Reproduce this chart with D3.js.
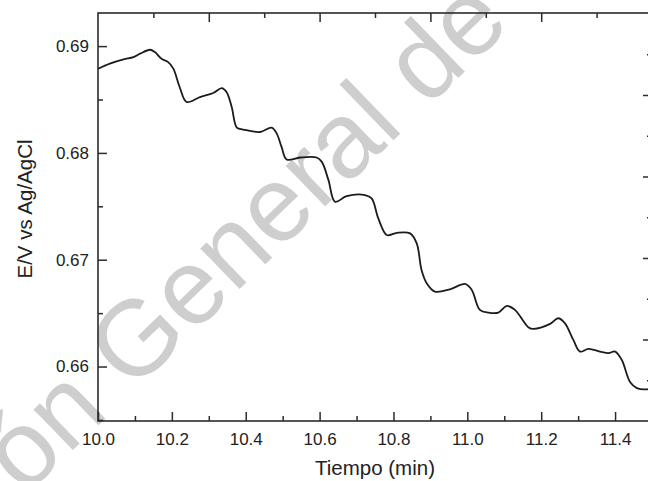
<!DOCTYPE html>
<html>
<head>
<meta charset="utf-8">
<script src="https://cdn.jsdelivr.net/npm/d3@7"></script>
<style>
  html, body { margin: 0; padding: 0; background: #fff; }
  svg { display: block; font-family: "Liberation Sans", Arial, sans-serif; }
  .tick text { fill: #222; }
  .tick line { stroke: #2b2b2b; stroke-width: 1.5; }
</style>
</head>
<body>
<script>
'use strict';

// time (min) and potential E/V vs Ag/AgCl
const timeMin = [
  10.001, 10.032, 10.069, 10.096, 10.114, 10.141, 10.154, 10.172, 10.190, 10.204,
  10.221, 10.240, 10.276, 10.312, 10.335, 10.348, 10.362, 10.376, 10.393, 10.439,
  10.470, 10.484, 10.497, 10.511, 10.547, 10.592, 10.606, 10.624, 10.642, 10.673,
  10.723, 10.741, 10.759, 10.782, 10.809, 10.845, 10.863, 10.876, 10.890, 10.912,
  10.953, 10.994, 11.012, 11.034, 11.057, 11.084, 11.107, 11.129, 11.165, 11.179,
  11.224, 11.246, 11.264, 11.287, 11.305, 11.328, 11.359, 11.382, 11.400, 11.418,
  11.441, 11.459, 11.487, 11.500
];
const potential = [
  0.68789, 0.68836, 0.68876, 0.68897, 0.68929, 0.68966, 0.68944, 0.68882, 0.68850, 0.68789,
  0.68617, 0.68477, 0.68523, 0.68561, 0.68607, 0.68570, 0.68430, 0.68237, 0.68219, 0.68196,
  0.68237, 0.68181, 0.68056, 0.67938, 0.67957, 0.67957, 0.67916, 0.67745, 0.67542, 0.67595,
  0.67605, 0.67574, 0.67387, 0.67231, 0.67252, 0.67247, 0.67153, 0.66904, 0.66779, 0.66701,
  0.66723, 0.66773, 0.66717, 0.66530, 0.66505, 0.66505, 0.66567, 0.66530, 0.66368, 0.66352,
  0.66399, 0.66452, 0.66406, 0.66249, 0.66140, 0.66165, 0.66140, 0.66125, 0.66140, 0.66063,
  0.65852, 0.65798, 0.65787, 0.65801
];

const xDomain = [10.0, 11.5];
const yDomain = [0.6549, 0.6931];
const xMajor = [10.0, 10.2, 10.4, 10.6, 10.8, 11.0, 11.2, 11.4];
const xMinor = [10.1, 10.3, 10.5, 10.7, 10.9, 11.1, 11.3];
const yMajor = [0.66, 0.67, 0.68, 0.69];
const yMinor = [0.655, 0.665, 0.675, 0.685];
// top and right axes belong to another scale whose labels are cut off
const topMajor = [10.3, 10.6, 10.9, 11.2];
const topMinor = [10.15, 10.45, 10.75, 11.05, 11.35];
const rightDomain = [0, 5.006];
const rightMajor = [1, 2, 3, 4];
const rightMinor = [0.5, 1.5, 2.5, 3.5, 4.5];
const watermarkHead = "Dirección General";
const watermarkTail = "de Bibliotecas";

const width = 648, height = 481;
const mLeft = 98, mRight = 652, mTop = 13, mBottom = 421;

const svg = d3.select("body").append("svg")
  .attr("width", width)
  .attr("height", height);

const x = d3.scaleLinear(xDomain, [mLeft, mRight]);
const y = d3.scaleLinear(yDomain, [mBottom, mTop]);
const yr = d3.scaleLinear(rightDomain, [mBottom, mTop]);

// watermark behind everything, pinned at the start of "de"
const wm = svg.append("g")
  .attr("transform", "translate(427,108) rotate(-44)")
  .attr("font-size", 107)
  .attr("fill", "#cecece");
wm.append("text")
  .attr("x", -30)
  .attr("text-anchor", "end")
  .text(watermarkHead);
wm.append("text")
  .attr("x", 0)
  .text(watermarkTail);

function addAxis(axis, tx, ty) {
  const g = svg.append("g")
    .attr("transform", `translate(${tx},${ty})`)
    .call(axis);
  g.select(".domain").remove();
  return g;
}

const bigTick = 9, smallTick = 5;

addAxis(d3.axisBottom(x).tickValues(xMajor).tickSize(-bigTick).tickPadding(12)
  .tickFormat(d3.format(".1f")), 0, mBottom)
  .selectAll("text").attr("font-size", 17);
addAxis(d3.axisBottom(x).tickValues(xMinor).tickSize(-smallTick).tickFormat(""), 0, mBottom);

addAxis(d3.axisLeft(y).tickValues(yMajor).tickSize(-bigTick).tickPadding(9)
  .tickFormat(d3.format(".2f")), mLeft, 0)
  .selectAll("text").attr("font-size", 17);
addAxis(d3.axisLeft(y).tickValues(yMinor).tickSize(-smallTick).tickFormat(""), mLeft, 0);

addAxis(d3.axisTop(x).tickValues(topMajor).tickSize(-bigTick).tickFormat(""), 0, mTop);
addAxis(d3.axisTop(x).tickValues(topMinor).tickSize(-smallTick).tickFormat(""), 0, mTop);

addAxis(d3.axisRight(yr).tickValues(rightMajor).tickSize(-bigTick).tickFormat(""), mRight, 0);
addAxis(d3.axisRight(yr).tickValues(rightMinor).tickSize(-smallTick).tickFormat(""), mRight, 0);

// frame
svg.append("rect")
  .attr("x", mLeft).attr("y", mTop)
  .attr("width", mRight - mLeft).attr("height", mBottom - mTop)
  .attr("fill", "none")
  .attr("stroke", "#2b2b2b")
  .attr("stroke-width", 1.6);

// curve
const pts = timeMin.map((t, i) => [t, potential[i]]);
const line = d3.line()
  .x(d => x(d[0]))
  .y(d => y(d[1]))
  .curve(d3.curveCatmullRom.alpha(0.5));

svg.append("path")
  .datum(pts)
  .attr("d", line)
  .attr("fill", "none")
  .attr("stroke", "#1c1c1c")
  .attr("stroke-width", 1.8)
  .attr("stroke-linejoin", "round");

// axis titles
svg.append("text")
  .attr("x", (mLeft + mRight) / 2)
  .attr("y", 475)
  .attr("text-anchor", "middle")
  .attr("font-size", 20.5)
  .attr("fill", "#222")
  .text("Tiempo (min)");

svg.append("text")
  .attr("transform", "translate(32,209) rotate(-90)")
  .attr("text-anchor", "middle")
  .attr("font-size", 20.5)
  .attr("fill", "#222")
  .text("E/V vs Ag/AgCl");
</script>
</body>
</html>
